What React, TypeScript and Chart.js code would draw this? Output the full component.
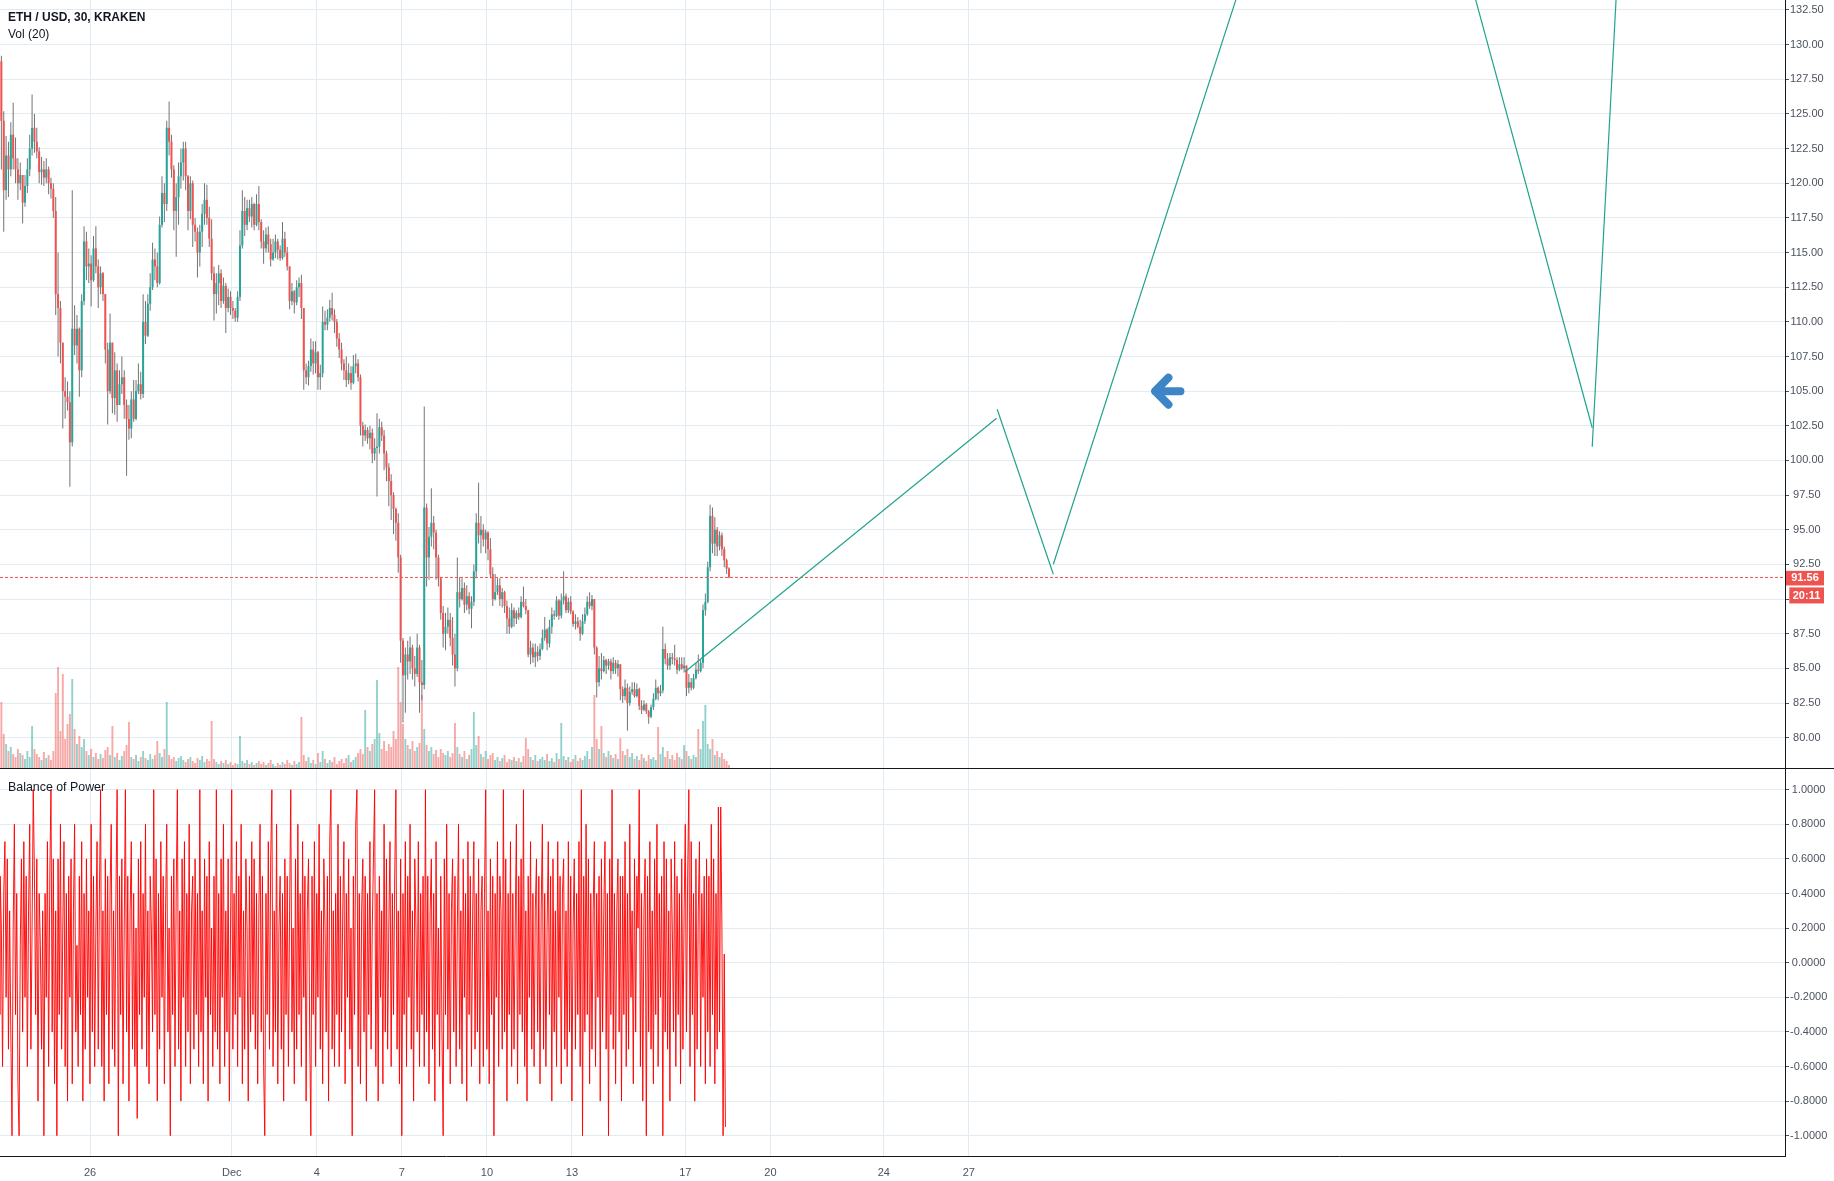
import React, { useEffect, useRef } from "react";
import { Chart, registerables } from "chart.js";

Chart.register(...registerables);

// ---------------- data (time in days, Nov-day numbering: Dec d = 30 + d) ----------------
const T0 = 22.79; // first 2h candle
const CANDLE_STEP = 1 / 12;
const BOP_STEP = 1 / 24;
const OPEN_FIRST = 128.5;

const CLOSE = [
  128.8, 124.5, 119.5, 122.0, 121.0, 123.5, 121.8, 121.0, 120.0, 120.6,
  118.6, 119.8, 121.0, 122.5, 124.0, 123.0, 122.3, 120.8, 121.0, 120.4,
  121.0, 120.0, 119.6, 118.0, 112.0, 111.0, 108.5, 105.0, 104.6, 104.2,
  101.3, 109.5, 108.3, 109.5, 106.5, 111.5, 115.8, 114.0, 114.2, 113.0,
  115.3, 114.0, 112.5, 113.5, 112.0, 108.0, 105.0, 108.5, 104.5, 106.5,
  104.0, 105.5, 106.0, 104.0, 103.0, 102.3, 104.4, 103.0, 105.0, 105.5,
  104.8, 110.0, 109.0, 111.3, 112.5, 114.5, 114.0, 112.8, 117.0, 119.3,
  118.5, 124.0, 123.0, 121.0, 118.0, 119.0, 120.5, 121.5, 122.5, 120.5,
  118.0, 120.0, 117.0, 116.5, 115.0, 116.5, 117.8, 118.8, 117.5, 116.0,
  113.5, 112.0, 112.8, 113.5, 111.5, 112.6, 111.0, 111.8, 111.0, 110.8,
  110.3, 111.8, 115.5, 118.0, 117.0, 118.2, 117.6, 118.5, 117.0, 118.5,
  117.2, 115.8, 115.3, 116.3, 115.6, 114.5, 115.0, 115.8, 115.2, 114.6,
  116.0, 115.0, 114.0, 111.5, 112.2, 111.4, 112.5, 112.8, 111.0, 106.5,
  106.0, 106.8, 108.0, 107.0, 107.8, 106.0, 106.3, 110.0, 109.8, 110.3,
  111.0, 110.5, 110.0, 108.8, 108.0, 107.0, 106.5, 105.8, 106.3, 105.6,
  106.8, 107.0, 106.0, 102.5, 101.8, 102.2, 101.6, 102.0, 100.5, 100.9,
  101.0, 102.4, 101.8, 100.5, 99.5, 98.5, 97.5, 96.5, 95.5, 93.0,
  87.0, 84.5, 86.0, 85.5, 86.5, 85.0, 84.6, 86.5, 84.0, 83.8,
  96.6, 93.0, 94.5, 95.5, 94.8, 93.0, 91.5, 89.0, 87.5, 88.0,
  88.5, 87.2, 86.0, 85.0, 90.5, 90.0, 90.8, 89.6, 90.2, 89.3,
  89.8, 92.0, 95.5, 94.6, 95.0, 94.3, 94.8, 93.6, 91.8, 90.0,
  90.5, 91.0, 90.0, 90.5, 89.5, 88.6, 88.0, 89.2, 88.6, 89.0,
  88.7, 89.8, 89.5, 89.2, 86.0, 86.5, 85.8, 86.2, 85.9, 86.4,
  87.2, 87.8, 86.8, 88.0, 88.9, 88.8, 89.9, 88.8, 89.9, 90.2,
  89.2, 89.8, 89.1, 88.2, 88.4, 88.0, 87.5, 88.4, 88.9, 89.8,
  89.5, 90.0, 86.5, 84.0, 85.0, 84.8, 85.6, 85.2, 85.5, 84.8,
  85.4, 85.0, 85.3, 83.5, 83.0, 83.6, 82.5, 83.3, 83.5, 83.0,
  83.5, 82.3, 82.0, 82.4, 81.9, 81.5, 82.2, 82.8, 83.6, 83.2,
  83.4, 86.4, 85.7, 85.2, 85.8, 85.7, 85.6, 84.9, 85.3, 85.0,
  85.2, 83.6, 84.0, 83.6, 84.3, 84.9, 84.8, 85.4, 89.2, 89.8,
  92.3, 96.0, 94.0, 95.0, 93.8, 94.6, 93.6, 92.8, 92.2, 91.56,
];

const HIGH = [
  130.5, 129.2, 125.2, 123.4, 123.0, 124.4, 125.8, 123.3, 121.8, 121.5,
  120.5, 120.6, 121.8, 123.5, 126.4, 125.0, 124.0, 122.6, 121.9, 121.6,
  121.8, 121.2, 120.4, 120.0, 119.0, 115.0, 111.5, 108.5, 106.0, 105.7,
  105.0, 119.5, 111.2, 110.5, 109.6, 112.0, 116.9, 116.5, 115.3, 114.8,
  116.2, 116.9, 114.5, 114.0, 113.6, 112.0, 108.5, 110.6, 108.5, 107.8,
  107.0, 106.5, 107.5, 106.5, 104.4, 104.0, 105.0, 105.8, 105.8, 107.0,
  106.4, 112.0, 111.5, 112.0, 113.5, 115.7, 115.3, 115.0, 117.6, 120.5,
  120.0, 124.5, 125.9, 123.5, 121.3, 120.0, 121.5, 122.5, 123.0, 123.0,
  120.6, 120.5, 120.2, 117.5, 116.8, 117.0, 118.5, 120.0, 119.9, 118.3,
  117.4, 114.0, 113.5, 114.1, 113.8, 113.2, 112.8, 112.4, 112.2, 111.5,
  111.0, 112.2, 116.6, 119.5, 119.0, 118.8, 118.8, 119.0, 118.6, 119.2,
  119.8, 117.4, 116.6, 116.8, 116.9, 116.0, 116.0, 116.3, 116.0, 115.5,
  117.2, 116.5, 115.4, 114.0, 112.8, 112.3, 113.0, 113.2, 113.4, 111.0,
  107.0, 107.2, 108.8, 108.6, 108.6, 107.9, 106.9, 111.1, 110.8, 110.9,
  111.6, 112.1, 110.9, 110.2, 109.2, 108.5, 107.3, 107.5, 107.0, 106.8,
  107.6, 107.7, 107.3, 106.2, 102.8, 102.6, 102.4, 102.5, 102.3, 101.6,
  103.4, 103.0, 102.8, 102.2, 100.7, 99.8, 99.0, 97.7, 96.6, 96.2,
  93.2, 87.2, 86.5, 87.0, 87.3, 86.7, 85.9, 87.5, 86.7, 85.6,
  103.9, 96.9, 95.2, 98.0, 96.0, 95.0, 93.2, 91.6, 89.5, 89.0,
  89.4, 89.0, 88.7, 87.5, 93.0, 91.6, 91.5, 91.2, 91.0, 90.5,
  90.2, 92.5, 96.2, 98.4, 96.0, 95.4, 95.0, 94.9, 94.4, 92.3,
  91.8, 91.5, 91.5, 90.8, 90.6, 89.9, 89.4, 89.7, 89.4, 89.2,
  89.4, 90.2, 90.9, 90.0, 89.2, 87.0, 86.8, 86.8, 86.6, 86.8,
  87.8, 88.7, 87.9, 88.5, 89.4, 89.2, 90.2, 90.0, 90.4, 92.0,
  90.4, 90.1, 90.2, 89.2, 88.9, 88.7, 88.5, 88.9, 89.4, 90.2,
  90.5, 90.3, 90.0, 86.6, 85.9, 86.1, 85.9, 85.7, 85.7, 85.7,
  85.8, 85.6, 85.6, 85.3, 83.7, 84.2, 83.9, 83.7, 84.0, 84.0,
  83.9, 83.6, 82.7, 82.7, 82.5, 82.0, 82.4, 83.2, 84.2, 83.7,
  83.8, 88.0, 86.8, 86.1, 86.1, 86.1, 86.7, 85.8, 85.8, 85.8,
  85.8, 85.2, 84.6, 84.3, 84.6, 85.4, 86.0, 85.6, 89.6, 90.4,
  92.7, 96.8, 96.6, 95.9, 95.2, 94.9, 94.8, 93.8, 92.9, 92.3,
];

const LOW = [
  127.5, 121.0, 116.5, 118.8, 119.0, 120.5, 121.0, 120.0, 118.8, 119.5,
  117.1, 118.3, 119.3, 120.5, 122.0, 122.2, 121.8, 120.0, 119.9, 119.8,
  120.0, 119.2, 118.9, 117.5, 110.5, 107.5, 107.0, 102.3, 103.0, 103.6,
  98.1, 101.0, 107.6, 107.0, 104.6, 106.0, 111.2, 113.0, 112.8, 111.1,
  112.9, 113.5, 111.0, 112.0, 111.5, 107.0, 102.6, 104.8, 103.4, 103.3,
  102.8, 104.0, 104.8, 103.0, 98.9, 101.5, 101.6, 102.8, 102.9, 104.8,
  104.4, 104.5, 108.4, 108.9, 110.8, 112.3, 113.0, 112.5, 112.7, 116.8,
  117.2, 118.0, 122.0, 120.4, 116.6, 114.7, 117.0, 119.6, 120.2, 119.5,
  116.6, 117.4, 115.4, 115.8, 113.2, 114.0, 115.4, 117.0, 117.0, 115.4,
  113.0, 110.1, 110.6, 111.2, 111.0, 111.3, 109.2, 110.7, 110.5, 110.2,
  110.0, 110.0, 111.5, 115.3, 116.2, 116.6, 117.2, 116.8, 116.6, 116.9,
  116.6, 115.3, 114.2, 115.0, 115.0, 114.0, 114.4, 114.6, 114.5, 114.4,
  114.5, 114.7, 113.7, 110.9, 111.2, 110.6, 111.2, 111.8, 110.2, 105.1,
  105.5, 105.4, 106.4, 106.2, 106.3, 105.1, 105.1, 106.0, 109.4, 109.4,
  110.0, 110.1, 109.2, 108.2, 107.4, 106.5, 105.8, 105.3, 105.5, 105.1,
  105.5, 106.3, 105.7, 101.8, 101.0, 101.4, 101.2, 100.8, 99.8, 100.0,
  97.4, 100.5, 101.4, 99.3, 98.5, 96.7, 95.7, 94.7, 94.2, 91.9,
  85.4, 81.1, 81.8, 84.2, 84.6, 84.2, 83.7, 84.4, 81.8, 82.7,
  83.5, 90.9, 91.4, 93.8, 93.6, 91.4, 90.9, 88.5, 86.5, 86.3,
  87.5, 86.6, 85.2, 83.7, 84.8, 89.4, 89.9, 89.0, 89.2, 88.9,
  87.9, 89.5, 91.5, 94.0, 93.3, 93.8, 93.3, 92.8, 91.5, 89.5,
  89.9, 90.3, 89.5, 89.4, 89.0, 87.5, 87.5, 87.9, 88.0, 88.2,
  88.5, 88.6, 89.4, 88.9, 85.8, 85.3, 85.4, 85.1, 85.5, 85.6,
  86.3, 87.0, 86.3, 86.5, 87.5, 88.5, 88.7, 88.5, 88.6, 89.6,
  89.0, 89.0, 88.9, 88.0, 87.8, 87.9, 87.0, 87.4, 88.2, 88.8,
  89.3, 89.2, 86.0, 82.9, 83.7, 84.2, 84.7, 84.6, 84.9, 84.2,
  84.6, 84.6, 84.4, 82.7, 82.5, 82.7, 80.5, 82.3, 83.1, 82.9,
  82.9, 82.0, 81.7, 81.9, 81.7, 81.0, 81.4, 82.0, 82.7, 82.7,
  83.0, 83.2, 85.3, 84.9, 84.9, 85.3, 85.2, 84.6, 84.8, 84.9,
  84.7, 83.0, 83.2, 83.4, 83.5, 84.2, 84.6, 84.7, 85.0, 88.8,
  89.7, 92.0, 93.3, 93.1, 93.1, 93.5, 93.1, 92.3, 91.8, 91.5,
];

const VOLUME = [
  40, 67, 35, 25, 18, 22, 15, 12, 20, 16,
  14, 10, 18, 12, 43, 20, 15, 12, 9, 17,
  11, 14, 9, 18, 76, 102, 38, 95, 30, 45,
  55, 90, 40, 25, 33, 22, 30, 18, 14, 20,
  12, 16, 10, 15, 11, 19, 22, 14, 43, 12,
  16, 9, 13, 18, 24, 47, 12, 10, 14, 8,
  12, 18, 11, 9, 15, 10, 14, 28, 16, 12,
  20, 67, 14, 10, 12, 8, 11, 13, 9, 7,
  10, 12, 8, 6, 11, 9, 13, 7, 10, 8,
  48, 10, 7, 5, 8, 6, 9, 5, 7, 4,
  6, 5, 33, 8, 6, 9, 5, 7, 4, 6,
  8, 5, 7, 4, 6, 9, 5, 3, 6, 4,
  7, 5, 9, 6, 4, 8, 5, 7, 52, 14,
  8, 12, 6, 9, 5, 16, 7, 18, 10, 6,
  9, 7, 12, 5, 8, 10, 6, 11, 14, 7,
  9, 12, 16, 20, 15, 59, 22, 18, 25, 30,
  89, 36, 20, 28, 18, 25, 22, 38, 30, 102,
  67, 45, 30, 24, 20, 28, 18, 22, 26, 74,
  40, 24, 18, 22, 15, 19, 12, 20, 16, 14,
  18, 12, 16, 46, 22, 15, 12, 18, 10, 14,
  20, 57, 24, 33, 15, 12, 18, 10, 14, 16,
  9, 12, 8, 11, 14, 7, 10, 9, 12, 8,
  11, 7, 13, 31, 20, 12, 9, 14, 8, 10,
  12, 9, 15, 8, 11, 7, 16, 10, 46, 13,
  9, 12, 7, 10, 14, 8, 11, 9, 13, 18,
  10, 22, 74, 30, 20, 43, 16, 12, 18, 14,
  11, 15, 10, 31, 18, 14, 20, 12, 16, 10,
  13, 9, 15, 11, 8, 14, 10, 12, 9, 42,
  15, 22, 12, 18, 10, 14, 9, 16, 12, 10,
  24, 18, 13, 10, 14, 12, 40, 20, 48, 64,
  25, 20, 30, 14, 18, 12, 16, 10, 8, 4,
];

const BOP = [
  -0.3, 0.5, 0.2, -0.6, 0.4, 0.7, -0.2, 0.6, -0.5, 0.3, -0.4, -1.0, 0.2, 0.8, -0.3, 0.4, -0.7, -1.0, 0.1, 0.6, -0.4, 0.7, -0.2, 0.5,
  -0.6, 0.3, 0.8, -0.5, 0.2, 1.0, 0.5, -0.3, 0.6, -0.8, 0.4, 0.1, -0.5, 0.3, -1.0, 0.4, -0.2, 0.7, -0.6, 0.5, 1.0, -0.4, 0.6, -0.7,
  0.3, -1.0, 0.6, -0.3, 0.8, -0.5, 0.2, 0.7, -0.6, 0.4, -0.8, 0.5, -0.2, 0.6, -0.7, 0.3, 0.8, -0.4, 0.1, -0.6, 0.5, -0.3, 0.7, -0.8,
  0.4, -0.5, 0.6, -0.2, 0.3, -0.7, 0.8, -0.4, 0.5, -0.6, 0.2, 0.7, -0.5, 0.4, 1.0, -0.6, 0.3, -0.8, 0.6, -0.3, 0.5, -0.7, 0.4, 0.8,
  -0.5, 0.3, -0.6, 0.4, 1.0, -1.0, 0.5, -0.3, 0.6, -0.7, 0.2, 1.0, -0.4, 0.5, -0.8, 0.3, 0.7, -0.5, 0.4, -0.6, 0.2, -0.9, 0.6, -0.3,
  0.7, -0.5, 0.4, -0.2, 0.8, -0.6, 0.3, -0.7, 0.5, 0.2, -0.4, 1.0, -0.3, 0.6, -0.8, 0.4, -0.5, 0.7, -0.2, 0.5, -0.7, 0.3, 0.8, -0.4,
  0.2, -1.0, 0.5, -0.3, 0.6, -0.6, 0.4, 1.0, -0.5, 0.3, -0.8, 0.6, -0.2, 0.7, -0.6, 0.4, -0.4, 0.8, -0.7, 0.3, 0.5, -0.5, 0.6, -0.3,
  0.4, -0.6, 1.0, -0.4, 0.3, -0.7, 0.6, -0.2, 0.5, -0.8, 0.7, -0.3, 0.2, -0.6, 0.5, -0.4, 1.0, -0.5, 0.4, -0.7, 0.6, -0.2, 0.8, -0.6,
  0.3, -0.4, 0.6, -0.8, 0.2, 1.0, -0.5, 0.4, -0.3, 0.7, -0.6, 0.5, -0.2, 0.8, -0.7, 0.3, -0.5, 0.6, 0.2, -0.8, 0.5, -0.4, 0.7, -0.3,
  0.6, -0.5, 0.4, -0.7, 0.3, 0.8, -0.4, 0.5, -0.6, -1.0, 0.4, -0.3, 0.7, -0.5, 0.6, 1.0, -0.6, 0.3, -0.4, 0.8, -0.7, 0.2, 0.5, -0.5,
  0.4, -0.8, 0.6, -0.3, 0.5, -0.6, 0.3, 1.0, -0.4, 0.2, -0.7, 0.6, -0.5, 0.8, -0.3, 0.4, -0.6, 0.7, -0.2, 0.5, -0.8, 0.3, 0.6, -0.4,
  -1.0, 0.5, -0.3, 0.7, -0.6, 0.4, -0.2, 0.8, -0.5, 0.3, -0.7, 0.6, 0.2, -0.4, 0.5, -0.8, 0.7, 1.0, -0.5, 0.3, -0.6, 0.4, -0.3, 0.8,
  -0.6, 0.5, -0.4, 0.3, 0.7, -0.7, 0.4, -0.2, 0.6, -0.5, 0.2, -1.0, 0.5, -0.3, 0.8, 1.0, -0.6, 0.4, -0.7, 0.3, 0.6, -0.4, 0.5, -0.8,
  0.4, -0.3, 0.7, -0.5, 0.2, 0.6, 1.0, -0.6, 0.4, -0.8, 0.5, -0.2, 0.3, -0.7, 0.8, -0.4, 0.6, -0.5, 0.2, 0.7, -0.6, 0.4, -0.3, 0.5,
  1.0, -0.5, 0.3, -0.7, 0.6, -1.0, 0.4, -0.3, 0.7, -0.6, 0.5, -0.2, 0.8, -0.5, 0.3, -0.8, 0.6, 0.2, -0.4, 0.7, -0.6, 0.4, -0.3, 0.5,
  -0.6, 1.0, -0.4, 0.5, -0.7, 0.3, 0.6, -0.5, 0.4, -0.8, 0.7, -0.3, 0.2, -0.6, 0.5, -0.4, -1.0, 0.6, -0.3, 0.8, -0.5, 0.4, -0.7, 0.3,
  0.6, -0.4, 0.5, -0.6, 0.2, 0.8, -0.5, 0.3, -0.7, 0.6, -0.2, 0.4, -0.8, 0.7, -0.3, 0.5, -0.6, 0.3, 0.7, -0.5, 0.4, -0.4, 0.6, -0.7,
  0.3, 0.5, -0.6, 0.4, 1.0, -0.5, 0.3, -0.7, 0.6, -0.3, 0.5, -1.0, 0.4, -0.2, 0.7, -0.6, 0.5, 0.3, -0.5, 1.0, -0.4, 0.6, -0.8, 0.4,
  -0.3, 0.7, -0.6, 0.4, -0.5, 0.2, 0.8, -0.7, 0.5, -0.3, 0.6, -0.4, 1.0, -0.6, 0.3, -0.8, 0.5, -0.2, 0.7, -0.5, 0.4, -0.6, 0.3, 0.6,
  -0.4, 0.5, -0.7, 0.3, 0.8, -0.5, 0.4, -0.6, 0.2, 0.7, -0.3, 0.5, -0.8, 0.6, -0.4, 0.3, -0.6, 0.7, -0.2, 0.5, -0.7, 0.4, 0.6, -0.5,
  0.3, -0.6, 0.7, -0.4, 0.5, -0.8, 0.2, 0.6, -0.5, 0.4, -0.3, 0.7, -0.6, 1.0, -1.0, 0.5, -0.4, 0.8, -0.3, 0.6, -0.7, 0.4, -0.5, 0.3,
  0.7, -0.6, 0.4, -0.2, 0.5, -0.8, 0.6, -0.4, 0.3, 0.7, -0.5, 0.4, -1.0, 0.6, -0.3, 1.0, -0.5, 0.4, -0.7, 0.3, 0.6, -0.4, 0.5, -0.8,
  0.5, -0.3, 0.7, -0.6, 0.4, -0.5, 0.8, -0.2, 0.3, -0.7, 0.6, -0.4, 0.5, 0.2, 1.0, -0.6, 0.4, -0.8, 0.3, 0.6, -1.0, 0.5, -0.4, 0.7,
  -0.5, 0.3, -0.7, 0.6, -0.3, 0.8, -0.6, 0.4, -0.2, 0.5, -1.0, 0.7, -0.4, 0.6, -0.5, 0.3, -0.8, 0.6, 0.2, -0.4, 0.7, -0.6, 0.5, -0.3,
  0.4, -0.7, 0.6, -0.5, 0.3, 0.8, -0.4, 0.5, 1.0, -0.6, 0.7, -0.3, 0.4, -0.8, 0.6, -0.5, 0.3, 0.7, -0.6, 0.4, -0.2, 0.5, -0.7, 0.6,
  -0.4, 0.5, -0.6, 0.8, -0.3, 0.6, -0.7, 0.4, -0.5, 0.9, -0.4, 0.9, 0.2, -1.0, 0.05, -0.95,
];

const X_TICKS = [26, 31, 34, 37, 40, 43, 47, 50, 54, 57];
const X_LABELS = ["26", "Dec", "4", "7", "10", "13", "17", "20", "24", "27"];
const PRICE_TICKS = [80, 82.5, 85, 87.5, 90, 92.5, 95, 97.5, 100, 102.5, 105, 107.5, 110, 112.5, 115, 117.5, 120, 122.5, 125, 127.5, 130, 132.5];
const BOP_TICKS = [-1, -0.8, -0.6, -0.4, -0.2, 0, 0.2, 0.4, 0.6, 0.8, 1];

const LAST_PRICE = 91.56;
const COUNTDOWN = "20:11";

// hand-drawn projection segments (time, price)
const TREND_T = [[46.99, 57.98], [58.0, 59.98], [59.98, 69.84], [72.0, 78.99], [78.99, 80.4]];
const TREND_P = [[84.76, 103.04], [103.69, 91.79], [92.51, 154.87], [154.85, 102.36], [100.99, 155.1]];
const ARROW_T = 64.02;
const ARROW_P = 105.0;

// ---------------- view ----------------
const X_MIN = 22.825;
const X_MAX = 85.79;
const P_MIN = 77.74;
const P_MAX = 133.22;
const BOP_MIN = -1.1214;
const BOP_MAX = 1.1197;
const VOL_MAX = 769;

const UP = "#26a69a";
const DOWN = "#ef5350";
const UP_VOL = "rgba(38,166,154,0.5)";
const DOWN_VOL = "rgba(239,83,80,0.5)";
const WICK = "#737375";
const GRID = "#e1ecf2";
const AXIS_TEXT = "#4c525e";
const AXIS_LINE = "#131722";
const TREND = "#22a38f";
const BOP_COLOR = "rgba(255,0,0,0.92)";
const ARROW_COLOR = "#3d85c6";
const FONT = '"Liberation Sans", Arial, sans-serif';

Chart.defaults.font.family = FONT;
Chart.defaults.font.size = 11;
Chart.defaults.color = AXIS_TEXT;

const xTicksHook = (s: any) => {
  s.ticks = X_TICKS.map((v) => ({ value: v }));
};

const arrowPlugin = {
  id: "arrowDrawing",
  afterDatasetsDraw(chart: any) {
    const { ctx, scales } = chart;
    const cx = scales.x.getPixelForValue(ARROW_T);
    const cy = scales.y.getPixelForValue(ARROW_P);
    ctx.save();
    ctx.strokeStyle = ARROW_COLOR;
    ctx.lineWidth = 8;
    ctx.lineCap = "round";
    ctx.lineJoin = "round";
    ctx.beginPath();
    ctx.moveTo(cx + 12.6, cy);
    ctx.lineTo(cx - 12.7, cy);
    ctx.moveTo(cx + 0.6, cy - 13.5);
    ctx.lineTo(cx - 12.7, cy);
    ctx.lineTo(cx + 0.6, cy + 13.5);
    ctx.stroke();
    ctx.restore();
  },
};

const priceTagPlugin = {
  id: "priceTag",
  afterDraw(chart: any) {
    const { ctx, chartArea } = chart;
    const y = chart.scales.y.getPixelForValue(LAST_PRICE);
    const left = chartArea.right + 1;
    ctx.save();
    ctx.fillStyle = DOWN;
    ctx.fillRect(left, y - 6.6, 38, 14.6);
    ctx.fillRect(left + 3.3, y + 10, 34.7, 16);
    ctx.fillStyle = "#ffffff";
    ctx.font = "bold 11px " + FONT;
    ctx.textAlign = "center";
    ctx.textBaseline = "middle";
    ctx.fillText(LAST_PRICE.toFixed(2), left + 19, y + 0.8);
    ctx.fillText(COUNTDOWN, left + 20.5, y + 18.2);
    ctx.restore();
  },
};

function priceConfig(): any {
  const candleT = CLOSE.map((_, i) => T0 + i * CANDLE_STEP);
  const opens = CLOSE.map((_, i) => (i === 0 ? OPEN_FIRST : CLOSE[i - 1]));
  const up = CLOSE.map((c, i) => c >= opens[i]);
  const barBase = {
    type: "bar",
    grouped: false,
    barPercentage: 1,
    categoryPercentage: 1,
    inflateAmount: 0,
    borderWidth: 0,
  };
  const trendSets = TREND_T.map((ts, k) => ({
    type: "line",
    data: ts.map((t, m) => ({ x: t, y: TREND_P[k][m] })),
    borderColor: TREND,
    borderWidth: 1.2,
    pointRadius: 0,
    order: 0,
  }));
  return {
    type: "bar",
    data: {
      datasets: [
        {
          ...barBase,
          data: candleT.map((t, i) => ({ x: t, y: [opens[i], CLOSE[i]] })),
          backgroundColor: up.map((u) => (u ? UP : DOWN)),
          maxBarThickness: 2,
          order: 1,
          yAxisID: "y",
        },
        {
          ...barBase,
          data: candleT.map((t, i) => ({
            x: t,
            y: [Math.min(LOW[i], opens[i], CLOSE[i]), Math.max(HIGH[i], opens[i], CLOSE[i])],
          })),
          backgroundColor: WICK,
          maxBarThickness: 1,
          order: 2,
          yAxisID: "y",
        },
        {
          ...barBase,
          data: candleT.map((t, i) => ({ x: t, y: VOLUME[i] })),
          backgroundColor: up.map((u) => (u ? UP_VOL : DOWN_VOL)),
          maxBarThickness: 1.9,
          order: 3,
          yAxisID: "yVol",
        },
        ...trendSets,
        {
          type: "line",
          data: [
            { x: X_MIN, y: LAST_PRICE },
            { x: X_MAX, y: LAST_PRICE },
          ],
          borderColor: DOWN,
          borderWidth: 1,
          borderDash: [3, 2],
          pointRadius: 0,
          order: 0,
        },
      ],
    },
    options: {
      responsive: false,
      animation: false,
      events: [],
      layout: { padding: 0 },
      plugins: { legend: { display: false }, tooltip: { enabled: false } },
      scales: {
        x: {
          type: "linear",
          min: X_MIN,
          max: X_MAX,
          offset: false,
          grid: { color: GRID, drawTicks: false, offset: false },
          border: { display: false },
          ticks: { display: false },
          afterBuildTicks: xTicksHook,
          afterFit: (s: any) => {
            s.height = 0;
            s.paddingLeft = 0;
            s.paddingRight = 0;
          },
        },
        y: {
          type: "linear",
          position: "right",
          min: P_MIN,
          max: P_MAX,
          grid: { color: GRID, tickLength: 4, tickColor: AXIS_TEXT },
          border: { color: AXIS_LINE, width: 1 },
          ticks: {
            padding: 1,
            crossAlign: "center",
            color: AXIS_TEXT,
            autoSkip: false,
            callback: (v: any) => Number(v).toFixed(2),
          },
          afterBuildTicks: (s: any) => {
            s.ticks = PRICE_TICKS.map((v) => ({ value: v }));
          },
          afterFit: (s: any) => {
            s.width = 49;
            s.paddingTop = 0;
            s.paddingBottom = 0;
          },
        },
        yVol: {
          type: "linear",
          display: false,
          position: "left",
          min: 0,
          max: VOL_MAX,
        },
      },
    },
    plugins: [arrowPlugin, priceTagPlugin],
  };
}

function bopConfig(): any {
  return {
    type: "line",
    data: {
      datasets: [
        {
          data: BOP.map((v, j) => ({ x: T0 + j * BOP_STEP, y: v })),
          borderColor: BOP_COLOR,
          borderWidth: 1,
          pointRadius: 0,
          tension: 0,
        },
      ],
    },
    options: {
      responsive: false,
      animation: false,
      events: [],
      layout: { padding: 0 },
      plugins: { legend: { display: false }, tooltip: { enabled: false } },
      scales: {
        x: {
          type: "linear",
          min: X_MIN,
          max: X_MAX,
          grid: { color: GRID, drawTicks: false },
          border: { color: AXIS_LINE, width: 1 },
          ticks: {
            padding: 9.5,
            maxRotation: 0,
            autoSkip: false,
            color: AXIS_TEXT,
            callback: (_v: any, i: number) => X_LABELS[i],
          },
          afterBuildTicks: xTicksHook,
          afterFit: (s: any) => {
            s.height = 24.3;
            s.paddingLeft = 0;
            s.paddingRight = 0;
          },
        },
        y: {
          type: "linear",
          position: "right",
          min: BOP_MIN,
          max: BOP_MAX,
          grid: { color: GRID, tickLength: 4, tickColor: AXIS_TEXT },
          border: { color: AXIS_LINE, width: 1 },
          ticks: {
            padding: 1,
            crossAlign: "center",
            color: AXIS_TEXT,
            autoSkip: false,
            callback: (v: any) => Number(v).toFixed(4),
          },
          afterBuildTicks: (s: any) => {
            s.ticks = BOP_TICKS.map((v) => ({ value: v }));
          },
          afterFit: (s: any) => {
            s.width = 49;
            s.paddingTop = 0;
            s.paddingBottom = 0;
          },
        },
      },
    },
  };
}

export default function App() {
  const priceRef = useRef<HTMLCanvasElement | null>(null);
  const bopRef = useRef<HTMLCanvasElement | null>(null);

  useEffect(() => {
    const c1 = new Chart(priceRef.current as HTMLCanvasElement, priceConfig());
    const c2 = new Chart(bopRef.current as HTMLCanvasElement, bopConfig());
    return () => {
      c1.destroy();
      c2.destroy();
    };
  }, []);

  const label = (top: number, size: number, weight: number): React.CSSProperties => ({
    position: "absolute",
    left: 8,
    top,
    fontFamily: FONT,
    fontSize: size,
    fontWeight: weight,
    lineHeight: "16px",
    color: "#131722",
    whiteSpace: "nowrap",
    pointerEvents: "none",
  });

  return (
    <div
      style={{
        position: "absolute",
        left: 0,
        top: 0,
        width: 1834,
        height: 1181,
        background: "#ffffff",
        overflow: "hidden",
      }}
    >
      <canvas ref={priceRef} width={1834} height={769} style={{ position: "absolute", left: 0, top: 0, display: "block" }} />
      <canvas ref={bopRef} width={1834} height={412} style={{ position: "absolute", left: 0, top: 769, display: "block" }} />
      <div style={{ position: "absolute", left: 0, top: 768, width: 1834, height: 1, background: AXIS_LINE }} />
      <div style={label(8.5, 12, 700)}>ETH / USD, 30, KRAKEN</div>
      <div style={label(26, 12, 400)}>Vol (20)</div>
      <div style={label(778.5, 12.4, 400)}>Balance of Power</div>
    </div>
  );
}
